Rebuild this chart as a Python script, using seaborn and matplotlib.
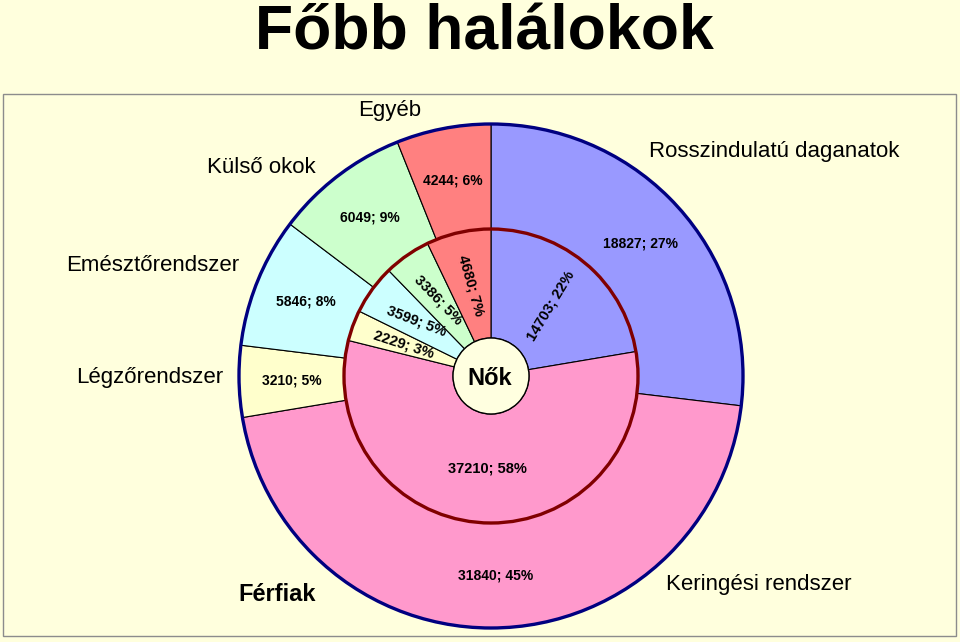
import numpy as np
import matplotlib
matplotlib.use("Agg")
import matplotlib.pyplot as plt
from matplotlib.patches import Circle, Rectangle
import seaborn as sns

# ---------------- data ----------------
categories = ["Rosszindulatú daganatok", "Keringési rendszer", "Légzőrendszer",
              "Emésztőrendszer", "Külső okok", "Egyéb"]
men_values = [18827, 31840, 3210, 5846, 6049, 4244]
men_pct = [27, 45, 5, 8, 9, 6]
women_values = [14703, 37210, 2229, 3599, 3386, 4680]
women_pct = [22, 58, 3, 5, 5, 7]
title = "Főbb halálokok"
men_name = "Férfiak"
women_name = "Nők"

# ---------------- style ----------------
sns.set_style("white")
plt.rcParams["font.family"] = ["Liberation Sans", "DejaVu Sans"]
plt.rcParams["text.color"] = "black"

colors = ["#9999FF", "#FF99CC", "#FFFFCC", "#CCFFFF", "#CCFFCC", "#FF8080"]
bg = "#FFFFDD"
W, H = 960, 642
cx, cy = 491, H - 376
r_out, r_mid, r_hole = 252, 147, 38
inner_rot = [59, 0, -18, -21, -46, -74]
# category label positions (pixel x, baseline pixel y)
cat_pos = [(774, 157), (759, 590), (150, 383), (153, 271), (261, 173), (390, 116)]

fig = plt.figure(figsize=(W / 100, H / 100), dpi=100, facecolor=bg)
ax = fig.add_axes([0, 0, 1, 1])
ax.set_facecolor(bg)

# plot area frame
ax.add_patch(Rectangle((3, H - 636), 953, 542, facecolor=bg,
                       edgecolor="#8C8C8C", lw=1.0, zorder=0))

# outer ring: men
w_out, _ = ax.pie(men_values, colors=colors, radius=r_out, center=(cx, cy),
                  startangle=90, counterclock=False, frame=True,
                  wedgeprops=dict(width=r_out - r_mid, edgecolor="black",
                                  linewidth=0.8))
# inner ring: women
w_in, _ = ax.pie(women_values, colors=colors, radius=r_mid, center=(cx, cy),
                 startangle=90, counterclock=False, frame=True,
                 wedgeprops=dict(width=r_mid - r_hole, edgecolor="black",
                                 linewidth=0.8))

ax.add_patch(Circle((cx, cy), r_out, fill=False, edgecolor="#000080",
                    lw=2.4, zorder=5))
ax.add_patch(Circle((cx, cy), r_mid, fill=False, edgecolor="#800000",
                    lw=2.4, zorder=5))
ax.add_patch(Circle((cx, cy), r_hole, facecolor="#FFFFE0", edgecolor="black",
                    lw=1.0, zorder=5))

def mid(w):
    return np.deg2rad((w.theta1 + w.theta2) / 2)

r_lab_out = (r_out + r_mid) / 2
for w, v, p in zip(w_out, men_values, men_pct):
    a = mid(w)
    ax.text(cx + r_lab_out * np.cos(a), cy + r_lab_out * np.sin(a),
            f"{v}; {p}%", ha="center", va="center", fontsize=10,
            fontweight="bold", color="black", zorder=6)

r_lab_in = (r_mid + r_hole) / 2
for w, v, p, rot in zip(w_in, women_values, women_pct, inner_rot):
    a = mid(w)
    ax.text(cx + r_lab_in * np.cos(a), cy + r_lab_in * np.sin(a),
            f"{v}; {p}%", ha="center", va="center", fontsize=10.5,
            fontweight="bold", rotation=rot, rotation_mode="anchor",
            color="black", zorder=6)

for name, (px, py) in zip(categories, cat_pos):
    ax.text(px, H - py, name, ha="center", va="baseline", fontsize=16,
            color="black", zorder=6)

ax.text(cx - 1, H - 385, women_name, ha="center", va="baseline", fontsize=17,
        fontweight="bold", color="black", zorder=7)
ax.text(277, H - 601, men_name, ha="center", va="baseline", fontsize=17,
        fontweight="bold", color="black", zorder=7)
ax.text(484, H - 50, title, ha="center", va="baseline", fontsize=45,
        fontweight="bold", color="black", zorder=7)

ax.set_xlim(0, W)
ax.set_ylim(0, H)
ax.set_aspect("auto")
ax.axis("off")

fig.savefig("out.png", dpi=100, facecolor=bg)
